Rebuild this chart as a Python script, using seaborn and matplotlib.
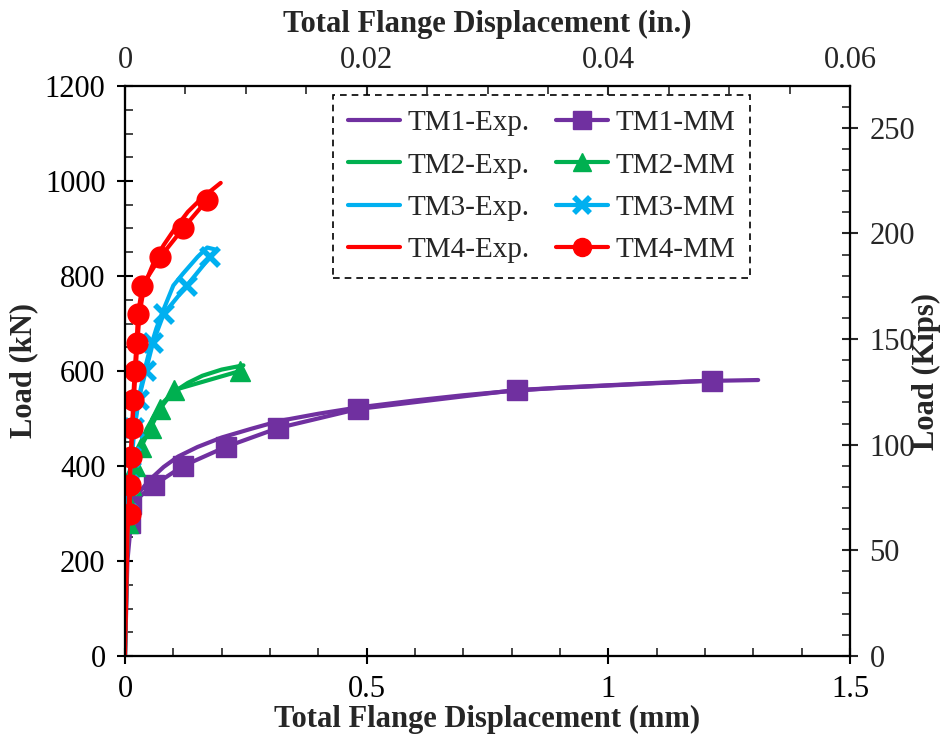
import matplotlib
matplotlib.use("Agg")
import matplotlib.pyplot as plt
from matplotlib.ticker import MultipleLocator, FuncFormatter
from matplotlib.lines import Line2D
import seaborn as sns

# ---------------- data (mm, kN) ----------------
TM1_exp_disp = [0, 0.005, 0.015, 0.03, 0.05, 0.08, 0.11, 0.15, 0.20, 0.26, 0.32, 0.40, 0.48, 0.60, 0.70, 0.80, 0.90, 1.00, 1.10, 1.20, 1.31]
TM1_exp_load = [0, 200, 310, 345, 370, 398, 420, 440, 460, 478, 495, 510, 523, 538, 549, 558, 565, 570, 575, 579, 581]
TM1_mm_disp = [0.010, 0.012, 0.060, 0.120, 0.208, 0.317, 0.482, 0.810, 1.215]
TM1_mm_load = [280, 320, 360, 400, 440, 480, 520, 560, 580]

TM2_exp_disp = [0, 0.005, 0.01, 0.02, 0.03, 0.045, 0.06, 0.08, 0.10, 0.13, 0.16, 0.20, 0.245]
TM2_exp_load = [0, 250, 330, 400, 440, 478, 505, 535, 555, 575, 590, 603, 612]
TM2_mm_disp = [0.006, 0.009, 0.013, 0.020, 0.033, 0.053, 0.072, 0.102, 0.238]
TM2_mm_load = [280, 320, 360, 400, 440, 480, 520, 560, 600]

TM3_exp_disp = [0, 0.005, 0.01, 0.02, 0.03, 0.04, 0.05, 0.065, 0.08, 0.10, 0.12, 0.15, 0.17, 0.19]
TM3_exp_load = [0, 260, 380, 480, 550, 600, 640, 690, 730, 780, 805, 840, 860, 855]
TM3_mm_disp = [0.006, 0.008, 0.012, 0.018, 0.028, 0.043, 0.058, 0.080, 0.128, 0.176]
TM3_mm_load = [300, 360, 420, 480, 540, 600, 660, 720, 780, 840]

TM4_exp_disp = [0, 0.005, 0.01, 0.015, 0.02, 0.025, 0.03, 0.04, 0.06, 0.08, 0.10, 0.13, 0.16, 0.198]
TM4_exp_load = [0, 250, 380, 480, 570, 650, 720, 780, 830, 865, 895, 935, 965, 996]
TM4_mm_disp = [0.010, 0.010, 0.012, 0.015, 0.017, 0.020, 0.024, 0.027, 0.036, 0.073, 0.120, 0.170]
TM4_mm_load = [300, 360, 420, 480, 540, 600, 660, 720, 780, 840, 900, 960]

labels_exp = ["TM1-Exp.", "TM2-Exp.", "TM3-Exp.", "TM4-Exp."]
labels_mm = ["TM1-MM", "TM2-MM", "TM3-MM", "TM4-MM"]
colors = ["#7030A0", "#00B050", "#00B0F0", "#FF0000"]
markers = ["s", "^", "x", "o"]

x_ticks_mm = [0, 0.5, 1, 1.5]
x_ticks_in = [0, 0.02, 0.04, 0.06]
y_ticks_kn = [0, 200, 400, 600, 800, 1000, 1200]
y_ticks_kips = [0, 50, 100, 150, 200, 250]

# ---------------- style ----------------
sns.set_style("white")
plt.rcParams["font.family"] = ["Liberation Serif", "DejaVu Serif"]
FS = 22
LFS = 21
LW = 3.0

fig = plt.figure(figsize=(9.46, 7.41), dpi=100)
ax = fig.add_axes([125 / 946, 1 - 656 / 741, 725 / 946, 570 / 741])

exp_sets = [(TM1_exp_disp, TM1_exp_load), (TM2_exp_disp, TM2_exp_load),
            (TM3_exp_disp, TM3_exp_load), (TM4_exp_disp, TM4_exp_load)]
mm_sets = [(TM1_mm_disp, TM1_mm_load), (TM2_mm_disp, TM2_mm_load),
           (TM3_mm_disp, TM3_mm_load), (TM4_mm_disp, TM4_mm_load)]

for i in range(4):
    ex, ey = exp_sets[i]
    mx, my = mm_sets[i]
    sns.lineplot(x=ex, y=ey, ax=ax, color=colors[i], linewidth=LW, sort=False,
                 estimator=None, zorder=3 + 2 * i)
    mkw = dict(marker=markers[i], markersize=15 if markers[i] != "x" else 13,
               markeredgecolor=colors[i], markerfacecolor=colors[i])
    mkw["markeredgewidth"] = 4 if markers[i] == "x" else 1
    sns.lineplot(x=mx, y=my, ax=ax, color=colors[i], linewidth=LW, sort=False,
                 estimator=None, zorder=4 + 2 * i, **mkw)

ax.set_xlim(0, 1.5)
ax.set_ylim(0, 1200)
ax.set_xticks(x_ticks_mm)
ax.set_yticks(y_ticks_kn)
ax.xaxis.set_minor_locator(MultipleLocator(0.1))
ax.yaxis.set_minor_locator(MultipleLocator(50))
fmt = FuncFormatter(lambda v, p: f"{v:g}")
ax.xaxis.set_major_formatter(fmt)
ax.yaxis.set_major_formatter(fmt)
ax.tick_params(axis="both", which="major", direction="inout", length=12, width=1.5,
               labelsize=FS, colors="black", pad=8)
ax.tick_params(axis="both", which="minor", direction="in", length=6, width=1.2)
ax.tick_params(axis="x", which="both", top=False, bottom=True)
ax.tick_params(axis="y", which="both", left=True, right=False)
ax.set_xlabel("Total Flange Displacement (mm)", fontsize=FS, fontweight="bold")
ax.set_ylabel("Load (kN)", fontsize=FS, fontweight="bold")
ax.xaxis.set_label_coords(0.5, -0.085)
ax.yaxis.set_label_coords(-0.12, 0.5)
for s in ax.spines.values():
    s.set_color("black")
    s.set_linewidth(1.5)

# top axis (inches)
axt = ax.twiny()
axt.set_xlim(0, 0.06)
axt.set_xticks(x_ticks_in)
axt.xaxis.set_minor_locator(MultipleLocator(0.005))
axt.xaxis.set_major_formatter(fmt)
axt.tick_params(axis="x", which="major", direction="in", length=10, width=1.5,
                labelsize=FS, pad=8)
axt.tick_params(axis="x", which="minor", direction="in", length=6, width=1.2)
axt.set_xlabel("Total Flange Displacement (in.)", fontsize=FS, fontweight="bold")
axt.xaxis.set_label_coords(0.5, 1.095)

# right axis (kips)
axr = ax.twinx()
axr.set_ylim(0, 1200 / 4.448)
axr.set_yticks(y_ticks_kips)
axr.yaxis.set_minor_locator(MultipleLocator(10))
axr.yaxis.set_major_formatter(fmt)
axr.tick_params(axis="y", which="major", direction="inout", length=12, width=1.5,
                labelsize=FS, pad=8)
axr.tick_params(axis="y", which="minor", direction="in", length=6, width=1.2)
axr.set_ylabel("Load (Kips)", fontsize=FS, fontweight="bold")
axr.yaxis.set_label_coords(1.085, 0.5)
for a in (axt, axr):
    for s in a.spines.values():
        s.set_color("black")
        s.set_linewidth(1.5)

# legend
handles = []
for i in range(4):
    handles.append(Line2D([], [], color=colors[i], lw=LW))
for i in range(4):
    kw = dict(marker=markers[i], markersize=13 if markers[i] != "x" else 11,
              markerfacecolor=colors[i], markeredgecolor=colors[i])
    kw["markeredgewidth"] = 4 if markers[i] == "x" else 1
    handles.append(Line2D([], [], color=colors[i], lw=LW, **kw))
leg = axr.legend(handles, labels_exp + labels_mm, ncol=2, loc="upper left",
                 bbox_to_anchor=(0.287, 0.984), fontsize=LFS, frameon=True,
                 fancybox=False, framealpha=1, edgecolor="black",
                 handlelength=1.8, handletextpad=0.25, columnspacing=0.9,
                 labelspacing=0.55, borderpad=0.5, borderaxespad=0)
leg.get_frame().set_linestyle((0, (4, 3)))
leg.get_frame().set_linewidth(1.2)

fig.savefig("out.png", dpi=100)
